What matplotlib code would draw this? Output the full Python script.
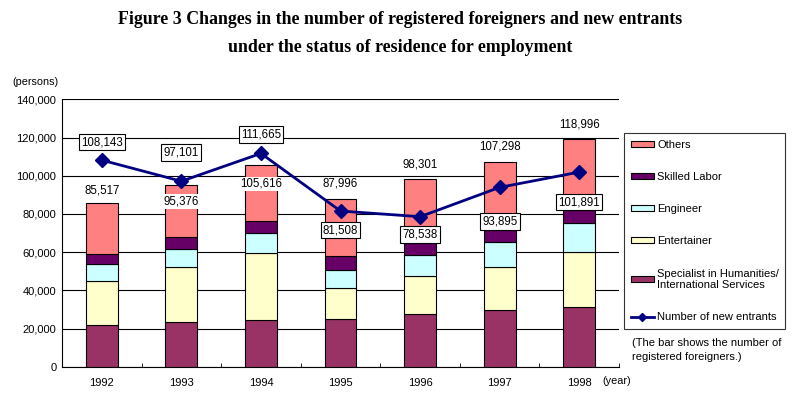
import matplotlib
matplotlib.use('agg')
import matplotlib.pyplot as plt
import numpy as np
from matplotlib.patches import Patch
from matplotlib.lines import Line2D
from matplotlib.ticker import FuncFormatter

plt.rcParams['font.family'] = ['Liberation Sans', 'DejaVu Sans']

# data
years = ['1992', '1993', '1994', '1995', '1996', '1997', '1998']
specialist = [21640, 23210, 24260, 24780, 27400, 29490, 31060]
entertainer = [23210, 28790, 35070, 16230, 19890, 22510, 28790]
engineer = [8720, 9420, 10470, 9420, 10990, 13090, 15190]
skilled = [5240, 6280, 6280, 7330, 6280, 6410, 6960]
totals = [85517, 95376, 105616, 87996, 98301, 107298, 118996]
new_entrants = [108143, 97101, 111665, 81508, 78538, 93895, 101891]
others = [t - a - b - c - d for t, a, b, c, d in
          zip(totals, specialist, entertainer, engineer, skilled)]

# label offsets in pixels (positive = above)
total_off = [13, -17, -19, 15, 14.5, 15, 15]
entr_off = [18, 29, 19, -19, -18, -34, -30]

c_spec = '#993366'
c_ent = '#FFFFCC'
c_eng = '#CCFFFF'
c_sk = '#660066'
c_oth = '#FF8080'
c_line = '#000080'

fig = plt.figure(figsize=(7.97, 3.99), dpi=100)
ax = fig.add_axes([62/797, 1-366.7/399, (619-62)/797, (366.7-99.3)/399])

x = np.arange(len(years))
w = 0.4
kw = dict(width=w, edgecolor='black', linewidth=0.8, zorder=2)
bottom = np.zeros(len(years))
for vals, col in [(specialist, c_spec), (entertainer, c_ent), (engineer, c_eng),
                  (skilled, c_sk), (others, c_oth)]:
    ax.bar(x, vals, bottom=bottom, color=col, **kw)
    bottom += np.array(vals)

ax.plot(x, new_entrants, color=c_line, lw=2, marker='D', markersize=7, zorder=4)

for i in range(len(years)):
    bg = None
    if total_off[i] < 0:
        bg = dict(boxstyle='square,pad=0.1', fc='white', ec='none')
    ax.annotate('{:,}'.format(totals[i]), xy=(x[i], totals[i]),
                xytext=(0, total_off[i]*0.72), textcoords='offset points',
                ha='center', va='center', fontsize=8.3, bbox=bg, zorder=5)
    ax.annotate('{:,}'.format(new_entrants[i]), xy=(x[i], new_entrants[i]),
                xytext=(0, entr_off[i]*0.72), textcoords='offset points',
                ha='center', va='center', fontsize=8.3, zorder=6,
                bbox=dict(boxstyle='square,pad=0.2', fc='white', ec='black', lw=0.8))

ax.set_xlim(-0.5, 6.5)
ax.set_ylim(0, 140000)
ax.set_yticks(range(0, 140001, 20000))
ax.yaxis.set_major_formatter(FuncFormatter(lambda v, p: '{:,}'.format(int(v))))
ax.yaxis.grid(True, color='black', lw=0.8, zorder=0)
ax.set_axisbelow(True)
ax.set_xticks(x, years)
ax.set_xticks(np.arange(-0.5, 7, 1), minor=True)
ax.tick_params(axis='x', which='major', length=0, pad=8, labelsize=8)
ax.tick_params(axis='x', which='minor', length=3, direction='in')
ax.tick_params(axis='y', length=0, pad=4, labelsize=8)
ax.spines['top'].set_visible(False)
ax.spines['right'].set_visible(False)
for s in ['left', 'bottom']:
    ax.spines[s].set_linewidth(0.8)

fig.text(400/797, 1-20/399,
         'Figure 3 Changes in the number of registered foreigners and new entrants',
         ha='center', va='center', fontsize=12.9, fontweight='bold', family='Liberation Serif')
fig.text(400/797, 1-48/399,
         'under the status of residence for employment',
         ha='center', va='center', fontsize=12.9, fontweight='bold', family='Liberation Serif')
fig.text(12/797, 1-82/399, '(persons)', ha='left', va='center', fontsize=7.8)
fig.text(602/797, 1-381/399, '(year)', ha='left', va='center', fontsize=7.8)
fig.text(632/797, 1-350/399, '(The bar shows the number of\nregistered foreigners.)',
         ha='left', va='center', fontsize=8, linespacing=1.5)

handles = [Patch(fc=c_oth, ec='black', lw=0.8),
           Patch(fc=c_sk, ec='black', lw=0.8),
           Patch(fc=c_eng, ec='black', lw=0.8),
           Patch(fc=c_ent, ec='black', lw=0.8),
           Patch(fc=c_spec, ec='black', lw=0.8),
           Line2D([], [], color=c_line, lw=2, marker='D', markersize=4)]
labels = ['Others', 'Skilled Labor', 'Engineer', 'Entertainer',
          'Specialist in Humanities/\nInternational Services', 'Number of new entrants']
leg = fig.legend(handles, labels, loc='upper left',
                 bbox_to_anchor=(624/797, 1-133/399, (785-624)/797, 0.0),
                 mode='expand', fontsize=8, frameon=True, fancybox=False,
                 edgecolor='black', handlelength=2.1, handleheight=0.45,
                 handletextpad=0.3, labelspacing=2.0, borderpad=0.6,
                 borderaxespad=0)
leg.get_frame().set_linewidth(0.8)

plt.savefig('out.png', dpi=100)
plt.close()
